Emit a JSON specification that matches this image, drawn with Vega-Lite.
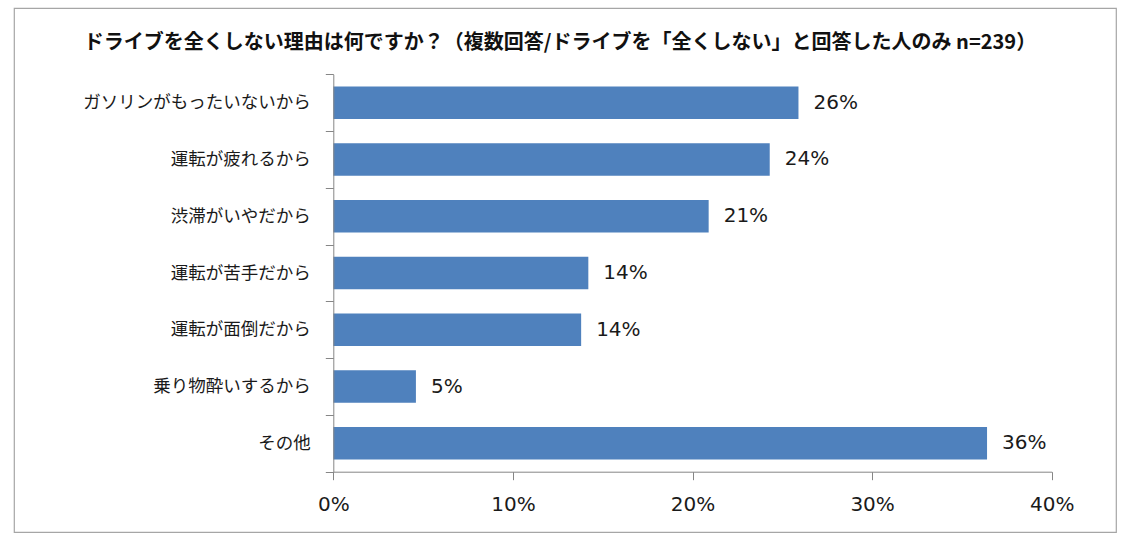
{
  "$schema": "https://vega.github.io/schema/vega-lite/v6.json",
  "width": 1102,
  "height": 524,
  "autosize": {"type": "none"},
  "padding": {"left": 14, "top": 8, "right": 10, "bottom": 11},
  "background": "white",
  "title": {
    "text": "ドライブを全くしない理由は何ですか？（複数回答/ドライブを「全くしない」と回答した人のみ n=239）",
    "font": "Noto Sans CJK JP",
    "fontSize": 20,
    "fontWeight": "bold",
    "color": "#111",
    "anchor": "middle",
    "frame": "group",
    "offset": -54,
    "dx": -5
  },
  "data": {
    "values": [
      {"reason": "ガソリンがもったいないから", "share": 0.259},
      {"reason": "運転が疲れるから", "share": 0.243},
      {"reason": "渋滞がいやだから", "share": 0.209},
      {"reason": "運転が苦手だから", "share": 0.142},
      {"reason": "運転が面倒だから", "share": 0.138},
      {"reason": "乗り物酔いするから", "share": 0.046},
      {"reason": "その他", "share": 0.364}
    ]
  },
  "encoding": {
    "y": {
      "field": "reason",
      "type": "nominal",
      "sort": null,
      "scale": {"range": [66.3, 463.7], "paddingInner": 0, "paddingOuter": 0},
      "axis": {
        "orient": "left",
        "offset": -319.3,
        "title": null,
        "tickBand": "extent",
        "tickSize": 8,
        "labelPadding": 15,
        "labelFont": "Noto Sans CJK JP",
        "labelFontSize": 17.5,
        "labelColor": "#1a1a1a",
        "labelLimit": 0,
        "domainColor": "#868686",
        "tickColor": "#868686",
        "zindex": 1
      }
    },
    "x": {
      "field": "share",
      "type": "quantitative",
      "scale": {"domain": [0, 0.4], "range": [319.3, 1037.7], "nice": false},
      "axis": {
        "orient": "bottom",
        "offset": -60.3,
        "title": null,
        "values": [0, 0.1, 0.2, 0.3, 0.4],
        "format": ".0%",
        "grid": false,
        "tickSize": 8,
        "labelPadding": 15,
        "labelFont": "DejaVu Sans",
        "labelFontSize": 20,
        "labelColor": "#1a1a1a",
        "labelFlush": false,
        "domainColor": "#868686",
        "tickColor": "#868686",
        "zindex": 1
      }
    }
  },
  "layer": [
    {"mark": {"type": "bar", "color": "#4F81BD", "height": {"band": 0.573}}},
    {
      "mark": {"type": "text", "align": "left", "baseline": "middle", "dx": 15, "font": "DejaVu Sans", "fontSize": 20, "color": "#1a1a1a"},
      "encoding": {"text": {"field": "share", "type": "quantitative", "format": ".0%"}}
    }
  ],
  "config": {"view": {"stroke": "#A6A6A6", "strokeWidth": 1.2}}
}
